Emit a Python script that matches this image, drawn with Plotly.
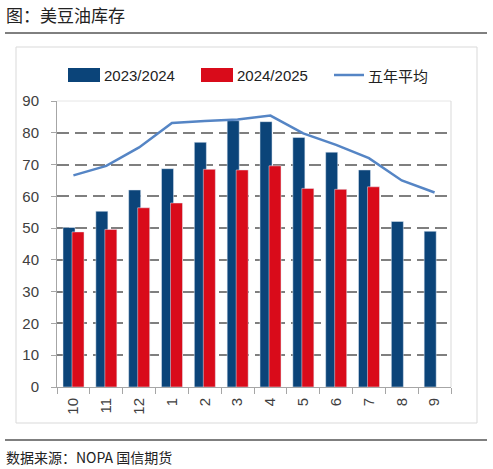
import plotly.graph_objects as go

# 美豆油库存 (NOPA), 单位与原图一致
mois = ['10', '11', '12', '1', '2', '3', '4', '5', '6', '7', '8', '9']
stock_2324 = [50.2, 55.3, 62.0, 68.7, 77.0, 83.8, 83.5, 78.5, 73.9, 68.3, 52.1, 49.0]
stock_2425 = [48.8, 49.6, 56.4, 57.9, 68.5, 68.3, 69.6, 62.5, 62.2, 63.0, None, None]
moyenne_5ans = [66.6, 69.6, 75.4, 83.1, 83.7, 84.2, 85.4, 79.8, 76.2, 72.0, 65.0, 61.2]
series = ['2023/2024', '2024/2025', '五年平均']

W, H = 493, 469
L, R, T, B = 57, 42, 101, 82
PW, PH = W - L - R, H - T - B


def px_x(x):
    return (x - L) / PW


def px_y(y):
    return (H - B - y) / PH


BLEU = '#0B4479'
ROUGE = '#D90B1A'
LIGNE = '#5585C5'
FONT = 'Liberation Sans, Arial, sans-serif'
CJK = 'Noto Sans CJK SC'

fig = go.Figure()
fig.add_trace(go.Bar(x=mois, y=stock_2324, name=series[0], marker_color=BLEU,
                     width=0.366, offset=-0.317))
fig.add_trace(go.Bar(x=mois, y=stock_2425, name=series[1], marker_color=ROUGE,
                     width=0.366, offset=-0.043))
fig.add_trace(go.Scatter(x=mois, y=moyenne_5ans, name=series[2], mode='lines',
                         line=dict(color=LIGNE, width=2.5)))

fig.update_layout(
    width=W, height=H,
    margin=dict(l=L, r=R, t=T, b=B, autoexpand=False),
    barmode='overlay',
    plot_bgcolor='white', paper_bgcolor='white',
    font=dict(family=FONT, size=15, color='#333333'),
    showlegend=False,
)

fig.update_yaxes(range=[0, 90], dtick=10, showgrid=True, gridcolor='#7f7f7f', gridwidth=1.6,
                 griddash='12px,6px', zeroline=False,
                 showline=True, linecolor='#a6a6a6', linewidth=1,
                 ticks='outside', ticklen=5, tickcolor='#a6a6a6', ticklabelstandoff=9,
                 tickfont=dict(size=15, color='#404040'))
fig.update_xaxes(type='category', showgrid=False, showline=True, linecolor='#a6a6a6', linewidth=1,
                 ticks='outside', tickson='boundaries', ticklen=6, tickcolor='#a6a6a6',
                 tickangle=-90, ticklabelstandoff=4, tickfont=dict(size=15, color='#404040'))

# légende dessinée à la main (symboles larges comme Excel)
leg_y = 75
for couleur, x0, nom in [(BLEU, 68, series[0]), (ROUGE, 201, series[1])]:
    fig.add_shape(type='rect', xref='paper', yref='paper', x0=px_x(x0), x1=px_x(x0 + 32),
                  y0=px_y(leg_y + 7), y1=px_y(leg_y - 7), fillcolor=couleur, line_width=0)
    fig.add_annotation(text=nom, xref='paper', yref='paper', x=px_x(x0 + 34), y=px_y(leg_y),
                       xanchor='left', yanchor='middle', showarrow=False,
                       font=dict(family=FONT, size=15, color='#222222'))
fig.add_shape(type='line', xref='paper', yref='paper', x0=px_x(334), x1=px_x(364),
              y0=px_y(leg_y), y1=px_y(leg_y), line=dict(color=LIGNE, width=2.5))
fig.add_annotation(text=series[2], xref='paper', yref='paper', x=px_x(366), y=px_y(leg_y),
                   xanchor='left', yanchor='middle', showarrow=False,
                   font=dict(family=CJK, size=15, color='#222222'))

# cadre du graphique et de la zone de tracé
fig.add_shape(type='rect', xref='paper', yref='paper', x0=px_x(16), x1=px_x(477),
              y0=px_y(423), y1=px_y(47), line=dict(color='#d9d9d9', width=1), layer='below')
fig.add_shape(type='line', xref='paper', yref='paper', x0=1, x1=1, y0=0, y1=1,
              line=dict(color='#d9d9d9', width=1))
fig.add_shape(type='line', xref='paper', yref='paper', x0=0, x1=1, y0=1, y1=1,
              line=dict(color='#e6e6e6', width=1), layer='below')

# traits de titre et de source
fig.add_shape(type='line', xref='paper', yref='paper', x0=px_x(5), x1=px_x(487),
              y0=px_y(33), y1=px_y(33), line=dict(color='#000000', width=1))
fig.add_shape(type='line', xref='paper', yref='paper', x0=px_x(5), x1=px_x(487),
              y0=px_y(440), y1=px_y(440), line=dict(color='#555555', width=1.5))

fig.add_annotation(text='图：美豆油库存', xref='paper', yref='paper', x=px_x(4), y=px_y(14),
                   xanchor='left', yanchor='middle', showarrow=False,
                   font=dict(family=CJK, size=17, color='#222222'))
fig.add_annotation(text='数据来源：NOPA 国信期货', xref='paper', yref='paper', x=px_x(4), y=px_y(457),
                   xanchor='left', yanchor='middle', showarrow=False,
                   font=dict(family=CJK, size=14, color='#222222'))

fig.write_html('out.html', config={'displayModeBar': False},
               post_script='document.body.style.margin = "0";')
